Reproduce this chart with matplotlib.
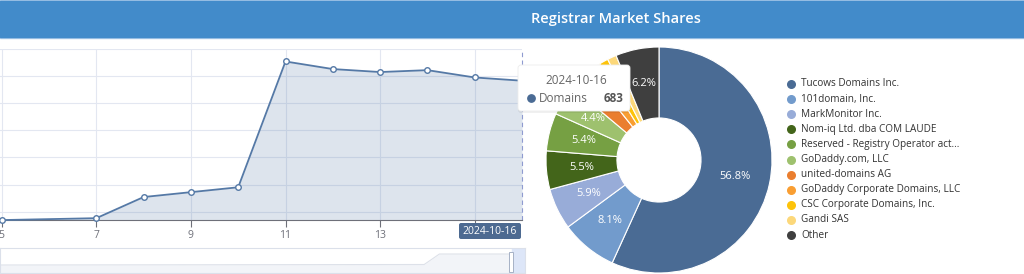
import numpy as np
import matplotlib.pyplot as plt
from matplotlib.patches import Rectangle, FancyBboxPatch

plt.rcParams['font.family'] = ['Open Sans', 'DejaVu Sans']

W, H = 1024, 274

# daily domain count, October 2024
days = [5, 7, 8, 9, 10, 11, 12, 13, 14, 15, 16]
domains = [169, 176, 254, 272, 290, 754, 726, 715, 722, 695, 683]
day_ticks = [5, 7, 9, 11, 13, 15]
day_labels = ['5', '7', '9', '11', '13', '']   # 15 is hidden under the pointer label

# faint overview shadow inside the zoom slider (fraction of slider box)
overview_x = [0.0, 0.808, 0.837, 0.975]
overview_y = [0.32, 0.34, 0.76, 0.76]

# registrar shares (%)
registrars = ['Tucows Domains Inc.', '101domain, Inc.', 'MarkMonitor Inc.',
              'Nom-iq Ltd. dba COM LAUDE', 'Reserved - Registry Operator act...',
              'GoDaddy.com, LLC', 'united-domains AG', 'GoDaddy Corporate Domains, LLC',
              'CSC Corporate Domains, Inc.', 'Gandi SAS', 'Other']
shares = [56.8, 8.1, 5.9, 5.5, 5.4, 4.4, 3.2, 1.9, 1.3, 1.3, 6.2]
colors = ['#4a6b94', '#729bcc', '#98acd8', '#43651a', '#76a043', '#9ec16e',
          '#ea7e2f', '#f99e32', '#fdc30a', '#fcd87a', '#3f3f3f']


def px_box(x0, y0, x1, y1):
    return [x0 / W, 1 - y1 / H, (x1 - x0) / W, (y1 - y0) / H]


fig = plt.figure(figsize=(W / 100, H / 100), dpi=100)

# header bar
hd = fig.add_axes([0, 0, 1, 1], zorder=0)
hd.set_xlim(0, W); hd.set_ylim(H, 0); hd.axis('off')
hd.add_patch(Rectangle((0, 0), W, 38, color='#a9c9e8'))
hd.add_patch(Rectangle((0, 1), W, 36, color='#428bca'))
hd.text(616, 19.5, 'Registrar Market Shares', color='white', fontsize=10.5,
        fontweight='semibold', ha='center', va='center')

# line chart (left part, cut off by the screenshot)
ax = fig.add_axes(px_box(0, 49, 522, 220), zorder=1)
ax.patch.set_alpha(0)
ax.fill_between(days, domains, 169.3, color='#5579a6', alpha=0.2, lw=0)
ax.plot(days, domains, color='#5579a6', lw=1.3, marker='o', ms=4,
        mfc='white', mec='#5579a6', mew=1, clip_on=False, zorder=3)
ax.set_xlim(4.964, 16)
ax.set_ylim(169.3, 800)
ax.set_xticks(day_ticks)
ax.set_xticklabels(day_labels)
ax.set_yticks(range(200, 801, 100))
ax.set_yticklabels([])
ax.tick_params(axis='y', length=0)
ax.tick_params(axis='x', length=5, color='#6e7079', labelcolor='#6e7079',
               labelsize=7.5, pad=2)
ax.grid(True, color='#e3e7f1', lw=0.8)
ax.set_axisbelow(True)
for s in ['top', 'left', 'right']:
    ax.spines[s].set_visible(False)
ax.spines['bottom'].set_color('#6e7079')
ax.axvline(16, color='#8f9bd0', ls=(0, (4, 3)), lw=0.8, clip_on=False)

# zoom slider
sl = fig.add_axes(px_box(0, 248, 525, 273), zorder=1)
sl.set_xlim(0, 1); sl.set_ylim(0, 1)
sl.set_xticks([]); sl.set_yticks([])
for s in sl.spines.values():
    s.set_color('#dbe0ea')
sl.fill_between(overview_x, overview_y, 0, color='#f2f4f8', lw=0)
sl.plot(overview_x, overview_y, color='#dde1e9', lw=0.8)
sl.axvspan(0.975, 1.0, color='#dde6f8')

# donut
pa = fig.add_axes(px_box(546, 47, 772, 273), zorder=2)
wedges, _ = pa.pie(shares, colors=colors, startangle=90, counterclock=False,
                   radius=1, wedgeprops=dict(width=0.628, edgecolor='white', linewidth=0.8))
pa.set_xlim(-1, 1); pa.set_ylim(-1, 1)
for w, s in zip(wedges, shares):
    if s >= 4:
        ang = np.deg2rad((w.theta1 + w.theta2) / 2)
        pa.text(0.686 * np.cos(ang), 0.686 * np.sin(ang), f'{s}%', color='white',
                fontsize=8, ha='center', va='center')

# overlay: axis pointer label, tooltip, legend
ov = fig.add_axes([0, 0, 1, 1], zorder=10)
ov.set_xlim(0, W); ov.set_ylim(H, 0); ov.axis('off')
ov.add_patch(FancyBboxPatch((459, 223), 62, 16, boxstyle='round,pad=0,rounding_size=2',
                            fc='#4d6a91', ec='none'))
ov.text(490, 231, '2024-10-16', color='white', fontsize=7.5, ha='center', va='center')
ov.add_patch(Rectangle((509, 252), 4, 20, fc='white', ec='#a6b1c6', lw=0.7))

ov.add_patch(FancyBboxPatch((518, 66), 112, 47, boxstyle='round,pad=0,rounding_size=3',
                            fc='#000000', ec='none', alpha=0.06))
ov.add_patch(FancyBboxPatch((518, 65), 112, 46, boxstyle='round,pad=0,rounding_size=3',
                            fc='white', ec='#ececec', lw=0.6))
ov.text(576, 80, '2024-10-16', color='#666666', fontsize=8.5, ha='center', va='center')
ov.scatter([531], [98], s=28, color='#4a6b94')
ov.text(539, 98, 'Domains', color='#666666', fontsize=8.5, ha='left', va='center')
ov.text(623, 98, '683', color='#555555', fontsize=8.5, fontweight='bold',
        ha='right', va='center')

for i, (name, c) in enumerate(zip(registrars, colors)):
    y = 84 + 15.1 * i
    ov.scatter([791], [y], s=30, color=c)
    ov.text(801, y, name, color='#333333', fontsize=7.2, ha='left', va='center')

fig.savefig('out.png', dpi=100)
